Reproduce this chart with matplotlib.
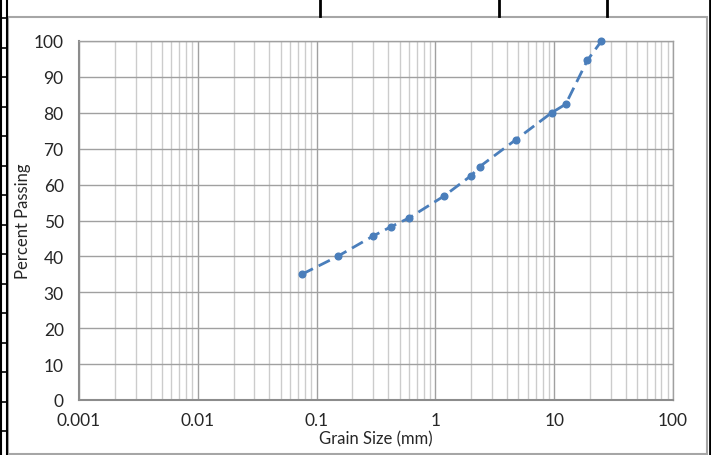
import numpy as np
import matplotlib
matplotlib.use('Agg')
import matplotlib.pyplot as plt
from matplotlib.lines import Line2D
from matplotlib.patches import Rectangle

plt.rcParams['font.family'] = ['Lato', 'DejaVu Sans']

# sieve data
grain_size = [0.075, 0.15, 0.3, 0.425, 0.6, 1.18, 2.0, 2.36, 4.75, 9.5, 12.5, 19.0, 25.0]
percent_passing = [35.0, 40.0, 45.7, 48.3, 50.7, 56.8, 62.5, 65.0, 72.5, 80.0, 82.4, 94.6, 100.0]

x_ticks = [0.001, 0.01, 0.1, 1, 10, 100]
x_tick_labels = ['0.001', '0.01', '0.1', '1', '10', '100']
y_ticks = list(range(0, 101, 10))

W, H = 711, 456
fig = plt.figure(figsize=(W / 100, H / 100), dpi=100)

# sheet borders around the chart
def px_line(x0, y0, x1, y1, **kw):
    fig.add_artist(Line2D([x0 / W, x1 / W], [1 - y0 / H, 1 - y1 / H], transform=fig.transFigure, **kw))

fig.add_artist(Rectangle((8 / W, 1 / H), 699 / W, 1 - 19 / H, transform=fig.transFigure,
                         fill=False, edgecolor='#a6a6a6', linewidth=1.5))
px_line(1, 0, 1, 456, color='black', linewidth=1.5)
px_line(7, 0, 7, 456, color='black', linewidth=1.5)
px_line(709.5, 0, 709.5, 456, color='black', linewidth=2)
for xv in [320, 499, 607]:
    px_line(xv, 0, xv, 17, color='black', linewidth=2)
for yv in np.arange(19, 456, 29.5):
    px_line(1, yv, 7, yv, color='black', linewidth=1.2)

ax = fig.add_axes([79 / W, 1 - 401 / H, (673 - 79) / W, (401 - 42) / H])
ax.set_xscale('log')
ax.set_xlim(0.001, 100)
ax.set_ylim(0, 100)

ax.plot(grain_size, percent_passing, color='#4a7ebb', linewidth=2.0,
        linestyle=(0, (4.5, 2.3)), marker='o', markersize=4.8, zorder=3, clip_on=False)

ax.set_xticks(x_ticks)
ax.set_xticklabels(x_tick_labels)
ax.set_yticks(y_ticks)
ax.grid(True, which='major', color='#a0a0a0', linewidth=1.0)
ax.grid(True, which='minor', axis='x', color='#cccccc', linewidth=1.0)
ax.tick_params(which='both', length=0, labelsize=12.5, colors='#262626')
ax.tick_params(axis='y', pad=11)
ax.tick_params(axis='x', pad=9)
for s in ax.spines.values():
    s.set_color('#a0a0a0')
    s.set_linewidth(1.0)
ax.spines['left'].set_color('#8c8c8c')
ax.spines['bottom'].set_color('#8c8c8c')
ax.spines['left'].set_linewidth(1.5)
ax.spines['bottom'].set_linewidth(1.5)

ax.set_xlabel('Grain Size (mm)', fontsize=12, color='#262626', labelpad=1)
ax.set_ylabel('Percent Passing', fontsize=12, color='#262626')
ax.yaxis.set_label_coords(-0.08, 0.5)

fig.savefig('out.png', dpi=100)
